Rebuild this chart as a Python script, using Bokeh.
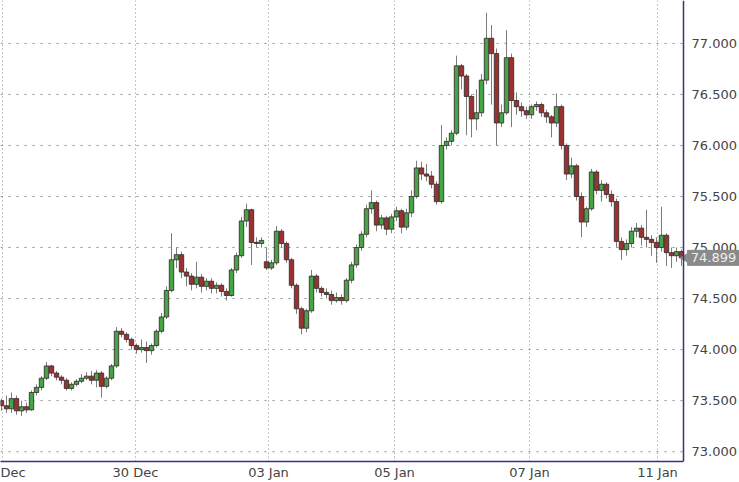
import math
from bokeh.plotting import figure
from bokeh.models import FixedTicker, ColumnDataSource, Span
from bokeh.core.properties import value
from bokeh.embed import file_html
from bokeh.resources import INLINE

# ---- data (hourly candles) ----
opens = [73.50, 73.45, 73.42, 73.52, 73.40, 73.44, 73.41, 73.58, 73.63, 73.72,
         73.84, 73.77, 73.73, 73.70, 73.62, 73.66, 73.69, 73.72, 73.74, 73.70,
         73.77, 73.64, 73.72, 73.84, 74.18, 74.15, 74.10, 74.04, 74.00, 74.02,
         73.99, 74.04, 74.18, 74.32, 74.58, 74.88, 74.93, 74.76, 74.72, 74.64,
         74.71, 74.62, 74.67, 74.60, 74.63, 74.57, 74.53, 74.78, 74.92, 75.26,
         75.37, 75.05, 75.04, 74.86, 74.80, 74.85, 75.16, 75.04, 74.88, 74.63,
         74.40, 74.21, 74.38, 74.72, 74.60, 74.56, 74.54, 74.48, 74.51, 74.48,
         74.68, 74.83, 75.00, 75.13, 75.38, 75.44, 75.22, 75.29, 75.18, 75.30,
         75.36, 75.20, 75.34, 75.50, 75.78, 75.72, 75.70, 75.62, 75.45, 76.00,
         76.04, 76.12, 76.78, 76.68, 76.48, 76.26, 76.32, 76.64, 77.05, 76.90,
         76.22, 76.32, 76.86, 76.44, 76.38, 76.34, 76.30, 76.38, 76.40, 76.32,
         76.28, 76.22, 76.38, 76.00, 75.72, 75.80, 75.50, 75.25, 75.38, 75.74,
         75.56, 75.62, 75.52, 75.45, 75.06, 74.98, 75.04, 75.16, 75.19, 75.10,
         75.08, 75.05, 75.00, 75.12, 74.95, 74.92, 74.96]
closes = [73.45, 73.42, 73.52, 73.40, 73.44, 73.41, 73.58, 73.63, 73.72, 73.84,
          73.77, 73.73, 73.70, 73.62, 73.66, 73.69, 73.72, 73.74, 73.70, 73.77,
          73.64, 73.72, 73.84, 74.18, 74.15, 74.10, 74.04, 74.00, 74.02, 73.99,
          74.04, 74.18, 74.32, 74.58, 74.88, 74.93, 74.76, 74.72, 74.64, 74.71,
          74.62, 74.67, 74.60, 74.63, 74.57, 74.53, 74.78, 74.92, 75.26, 75.37,
          75.05, 75.04, 75.07, 74.80, 74.85, 75.16, 75.04, 74.88, 74.63, 74.40,
          74.21, 74.38, 74.72, 74.60, 74.56, 74.54, 74.48, 74.51, 74.48, 74.68,
          74.83, 75.00, 75.13, 75.38, 75.44, 75.22, 75.29, 75.18, 75.30, 75.36,
          75.20, 75.34, 75.50, 75.78, 75.72, 75.70, 75.62, 75.45, 76.00, 76.04,
          76.12, 76.78, 76.68, 76.48, 76.26, 76.32, 76.64, 77.05, 76.90, 76.22,
          76.32, 76.86, 76.44, 76.38, 76.34, 76.30, 76.38, 76.40, 76.32, 76.28,
          76.22, 76.38, 76.00, 75.72, 75.80, 75.50, 75.25, 75.38, 75.74, 75.56,
          75.62, 75.52, 75.45, 75.06, 74.98, 75.04, 75.16, 75.19, 75.10, 75.08,
          75.05, 75.00, 75.12, 74.95, 74.92, 74.96, 74.899]
highs = [73.52, 73.55, 73.58, 73.55, 73.50, 73.48, 73.60, 73.66, 73.74, 73.88,
         73.85, 73.79, 73.75, 73.72, 73.68, 73.71, 73.76, 73.78, 73.79, 73.80,
         73.79, 73.74, 73.86, 74.22, 74.21, 74.17, 74.12, 74.06, 74.10, 74.08,
         74.06, 74.20, 74.36, 74.62, 75.14, 75.00, 74.96, 74.80, 74.75, 74.86,
         74.74, 74.70, 74.70, 74.66, 74.65, 74.60, 74.80, 74.95, 75.30, 75.43,
         75.38, 75.10, 75.10, 75.00, 74.88, 75.21, 75.18, 75.06, 74.90, 74.65,
         74.42, 74.40, 74.78, 74.74, 74.62, 74.60, 74.58, 74.56, 74.54, 74.70,
         74.86, 75.03, 75.16, 75.42, 75.56, 75.46, 75.32, 75.31, 75.33, 75.40,
         75.38, 75.38, 75.56, 75.85, 75.84, 75.82, 75.75, 75.65, 76.20, 76.08,
         76.15, 76.88, 76.80, 76.70, 76.50, 76.55, 76.70, 77.30, 77.18, 76.95,
         76.40, 77.13, 76.90, 76.52, 76.42, 76.38, 76.40, 76.43, 76.42, 76.35,
         76.30, 76.51, 76.40, 76.02, 75.88, 75.82, 75.54, 75.40, 75.77, 75.76,
         75.66, 75.64, 75.56, 75.48, 75.10, 75.08, 75.20, 75.24, 75.22, 75.37,
         75.12, 75.10, 75.40, 75.14, 75.00, 75.00, 74.98]
lows = [73.40, 73.38, 73.38, 73.36, 73.35, 73.38, 73.40, 73.55, 73.60, 73.70,
        73.74, 73.70, 73.66, 73.60, 73.60, 73.64, 73.67, 73.70, 73.66, 73.63,
        73.53, 73.62, 73.70, 73.82, 74.12, 74.07, 74.00, 73.96, 73.97, 73.87,
        73.95, 74.02, 74.16, 74.30, 74.56, 74.80, 74.70, 74.62, 74.58, 74.60,
        74.56, 74.58, 74.55, 74.55, 74.52, 74.48, 74.52, 74.75, 74.90, 75.20,
        74.83, 75.00, 75.00, 74.78, 74.78, 74.83, 75.00, 74.85, 74.60, 74.35,
        74.15, 74.17, 74.36, 74.56, 74.52, 74.50, 74.44, 74.46, 74.44, 74.46,
        74.65, 74.80, 74.97, 75.10, 75.33, 75.16, 75.18, 75.12, 75.14, 75.26,
        75.14, 75.17, 75.30, 75.48, 75.66, 75.65, 75.58, 75.42, 75.43, 75.96,
        76.00, 76.10, 76.55, 76.10, 76.08, 76.15, 76.28, 76.60, 76.40, 76.00,
        76.18, 76.30, 76.18, 76.30, 76.28, 76.26, 76.26, 76.34, 76.28, 76.22,
        76.08, 76.18, 75.96, 75.66, 75.68, 75.46, 75.10, 75.20, 75.36, 75.52,
        75.45, 75.48, 75.40, 75.00, 74.88, 74.92, 75.00, 75.10, 75.02, 75.00,
        74.92, 74.85, 74.96, 74.82, 74.80, 74.86, 74.82]

tick_bars = [0.2, 26.8, 53.4, 78.6, 105.6, 131.2]
tick_labels = ["Dec", "30 Dec", "03 Jan", "05 Jan", "07 Jan", "11 Jan"]
price_ticks = [73.0, 73.5, 74.0, 74.5, 75.0, 75.5, 76.0, 76.5, 77.0]
last_price = 74.899

GREEN = "#45a545"
RED = "#9a3232"
AXIS = "#35357d"
GRID = "#8a8a8a"
TXT = "#444444"

# layout of the frame (bar units: 5 px per bar)
X0, XAX, XEND = -0.2, 136.4, 147.6   # left edge, price-axis line, right edge

bars = list(range(len(closes)))
up = [c >= o for o, c in zip(opens, closes)]
src = ColumnDataSource(dict(
    x=bars, o=opens, c=closes, h=highs, l=lows,
    top=[max(o, c) for o, c in zip(opens, closes)],
    bot=[min(o, c) for o, c in zip(opens, closes)],
    col=[GREEN if u else RED for u in up],
))

p = figure(width=739, height=482, x_range=(X0, XEND), y_range=(72.904, 77.420),
           output_backend="svg", toolbar_location=None, y_axis_location=None,
           min_border_left=0, min_border_top=0, min_border_right=0, min_border_bottom=20)
p.outline_line_color = None
p.background_fill_color = "white"
p.border_fill_color = "white"

# horizontal dotted grid, stopping at the price axis
p.ygrid.visible = False
p.segment(x0=[X0] * len(price_ticks), y0=price_ticks, x1=[XAX] * len(price_ticks),
          y1=price_ticks, line_color=GRID, line_dash="2 6", line_width=1)

# candles
p.segment(x0="x", y0="l", x1="x", y1="h", source=src, line_color="#7c7c7c", line_width=1)
p.vbar(x="x", top="top", bottom="bot", width=0.88, source=src,
       fill_color="col", line_color="#3a3030", line_width=0.9)

# bottom time axis
xa = p.xaxis[0]
xa.ticker = FixedTicker(ticks=tick_bars)
xa.major_label_overrides = {t: lab for t, lab in zip(tick_bars, tick_labels)}
xa.bounds = (X0, XAX)
xa.axis_line_color = AXIS
xa.axis_line_width = 1.5
xa.major_tick_line_color = None
xa.minor_tick_line_color = None
xa.major_tick_out = 0
xa.major_tick_in = 0
xa.major_label_text_font = "DejaVu Sans"
xa.major_label_text_font_size = "13px"
xa.major_label_text_color = TXT
xa.major_label_standoff = 3

p.xgrid.grid_line_color = GRID
p.xgrid.grid_line_dash = "1 3"

# price axis on the right
p.add_layout(Span(location=XAX, dimension="height", line_color=AXIS, line_width=1.5))
p.text(x=[138.0] * len(price_ticks), y=price_ticks,
       text=[f"{v:.3f}" for v in price_ticks],
       text_font=value("DejaVu Sans"), text_font_size="13px", text_color=TXT,
       text_align="left", text_baseline="middle")

# last-price marker
p.scatter(x=[137.0], y=[last_price], marker="triangle", size=11, angle=math.pi / 2,
          fill_color="#8a8a8a", line_color="#8a8a8a")
p.rect(x=[142.4], y=[last_price], width=52, height=15, width_units="screen",
       height_units="screen", fill_color="#8a8a8a", line_color="#8a8a8a")
p.text(x=[142.4], y=[last_price], text=[f"{last_price:.3f}"],
       text_font=value("DejaVu Sans"), text_font_size="13px", text_color="#eeeeee",
       text_align="center", text_baseline="middle")

open("out.html", "w").write(file_html(p, INLINE))
